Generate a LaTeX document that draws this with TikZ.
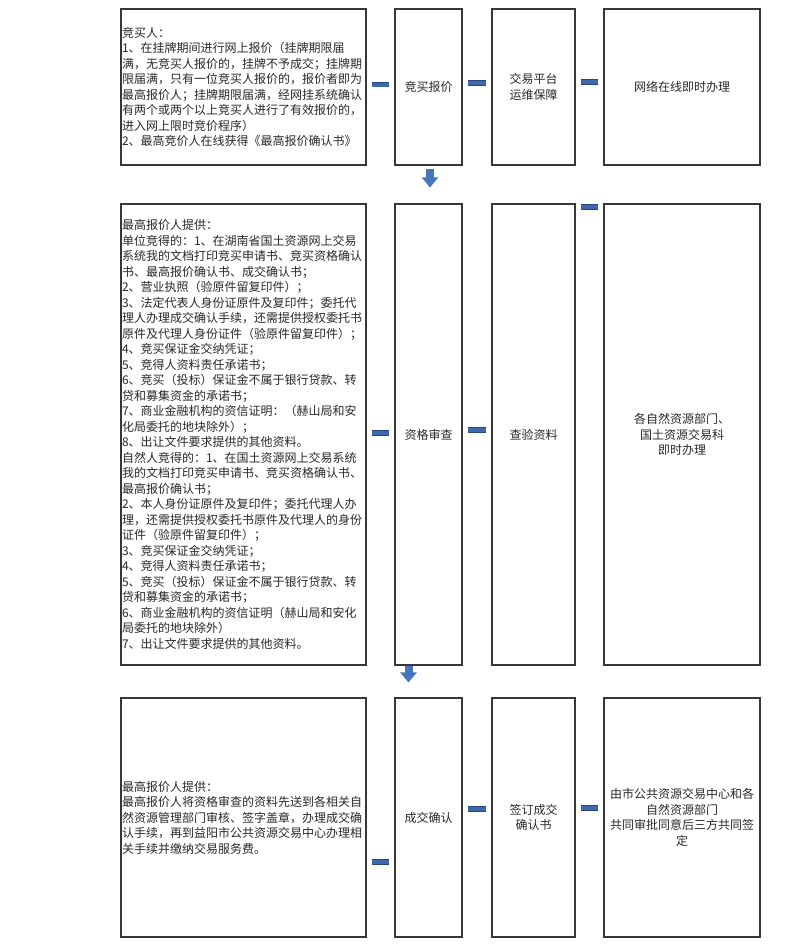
\documentclass[tikz,border=0pt]{standalone}
\usepackage{fontspec}
\newfontfamily\cjk{Noto Sans CJK SC}
\usetikzlibrary{arrows.meta}
\definecolor{boxgray}{RGB}{55,55,55}
\definecolor{inkgray}{RGB}{40,40,40}
\definecolor{linkblue}{RGB}{62,104,170}
\definecolor{linkdark}{RGB}{38,70,125}
\definecolor{arrowblue}{RGB}{70,118,190}

\tikzset{
  box/.style={draw=boxgray, line width=1.1pt, text=inkgray, inner sep=1pt,
    font=\cjk\fontsize{12}{15.5}\selectfont},
  info/.style={box, text width=243pt, align=left},
  tag/.style={box, align=center},
  link/.style={draw=linkdark, line width=0.7pt, double=linkblue, double distance=4pt,
    shorten <=5pt, shorten >=5.5pt},
  down/.style={draw=arrowblue, line width=8pt, -{Triangle[width=16pt,length=10pt]}}
}

\begin{document}
\begin{tikzpicture}[x=1pt, y=-1pt]
  \useasboundingbox (0,0) rectangle (800,946);

  % --- Trin 1: bidding ---
  \node[info, minimum height=156] (bidder) at (243.5,87) {竞买人：\\
    1、在挂牌期间进行网上报价（挂牌期限届\\
    满，无竞买人报价的，挂牌不予成交；挂牌期\\
    限届满，只有一位竞买人报价的，报价者即为\\
    最高报价人；挂牌期限届满，经网挂系统确认\\
    有两个或两个以上竞买人进行了有效报价的，\\
    进入网上限时竞价程序）\\
    2、最高竞价人在线获得《最高报价确认书》};
  \node[tag, minimum width=67, minimum height=156] (quote) at (428.5,87) {竞买报价};
  \node[tag, minimum width=83, minimum height=156] (platform) at (533.5,87) {交易平台\\运维保障};
  \node[tag, minimum width=156, minimum height=156] (online) at (682,87) {网络在线即时办理};
  \draw[link] (bidder.east |- 0,84.5) -- (quote.west |- 0,84.5);
  \draw[link] (quote.east |- 0,83) -- (platform.west |- 0,83);
  \draw[link] (platform.east |- 0,82) -- (online.west |- 0,82);

  % --- Trin 2: review ---
  \node[info, minimum height=461] (docs) at (243.5,434.5) {最高报价人提供：\\
    单位竞得的：1、在湖南省国土资源网上交易\\
    系统我的文档打印竞买申请书、竞买资格确认\\
    书、最高报价确认书、成交确认书；\\
    2、营业执照（验原件留复印件）；\\
    3、法定代表人身份证原件及复印件；委托代\\
    理人办理成交确认手续，还需提供授权委托书\\
    原件及代理人身份证件（验原件留复印件）；\\
    4、竞买保证金交纳凭证；\\
    5、竞得人资料责任承诺书；\\
    6、竞买（投标）保证金不属于银行贷款、转\\
    贷和募集资金的承诺书；\\
    7、商业金融机构的资信证明：（赫山局和安\\
    化局委托的地块除外）；\\
    8、出让文件要求提供的其他资料。\\
    自然人竞得的：1、在国土资源网上交易系统\\
    我的文档打印竞买申请书、竞买资格确认书、\\
    最高报价确认书；\\
    2、本人身份证原件及复印件；委托代理人办\\
    理，还需提供授权委托书原件及代理人的身份\\
    证件（验原件留复印件）；\\
    3、竞买保证金交纳凭证；\\
    4、竞得人资料责任承诺书；\\
    5、竞买（投标）保证金不属于银行贷款、转\\
    贷和募集资金的承诺书；\\
    6、商业金融机构的资信证明（赫山局和安化\\
    局委托的地块除外）\\
    7、出让文件要求提供的其他资料。};
  \node[tag, minimum width=67, minimum height=461] (review) at (428.5,434.5) {资格审查};
  \node[tag, minimum width=83, minimum height=461] (verify) at (533.5,434.5) {查验资料};
  \node[tag, minimum width=156, minimum height=461] (dept) at (682,434.5) {各自然资源部门、\\国土资源交易科\\即时办理};
  \draw[link] (docs.east |- 0,433) -- (review.west |- 0,433);
  \draw[link] (review.east |- 0,430) -- (verify.west |- 0,430);
  \draw[link] (verify.east |- 0,207) -- (dept.west |- 0,207);

  % --- Trin 3: confirmation ---
  \node[info, minimum height=239] (deal) at (243.5,817.5) {最高报价人提供：\\
    最高报价人将资格审查的资料先送到各相关自\\
    然资源管理部门审核、签字盖章，办理成交确\\
    认手续，再到益阳市公共资源交易中心办理相\\
    关手续并缴纳交易服务费。};
  \node[tag, minimum width=67, minimum height=239] (confirm) at (428.5,817.5) {成交确认};
  \node[tag, minimum width=83, minimum height=239] (sign) at (533.5,817.5) {签订成交\\确认书};
  \node[tag, minimum width=156, minimum height=239] (joint) at (682,817.5) {由市公共资源交易中心和各\\自然资源部门\\共同审批同意后三方共同签\\定};
  \draw[link] (deal.east |- 0,862) -- (confirm.west |- 0,862);
  \draw[link] (confirm.east |- 0,809) -- (sign.west |- 0,809);
  \draw[link] (sign.east |- 0,808) -- (joint.west |- 0,808);

  % --- pile ned ---
  \draw[down, shorten <=3pt, shorten >=16pt] (quote.south -| 430,0) -- (review.north -| 430,0);
  \draw[down, shorten <=0.5pt, shorten >=15pt] (review.south -| 408.5,0) -- (confirm.north -| 408.5,0);
\end{tikzpicture}
\end{document}
